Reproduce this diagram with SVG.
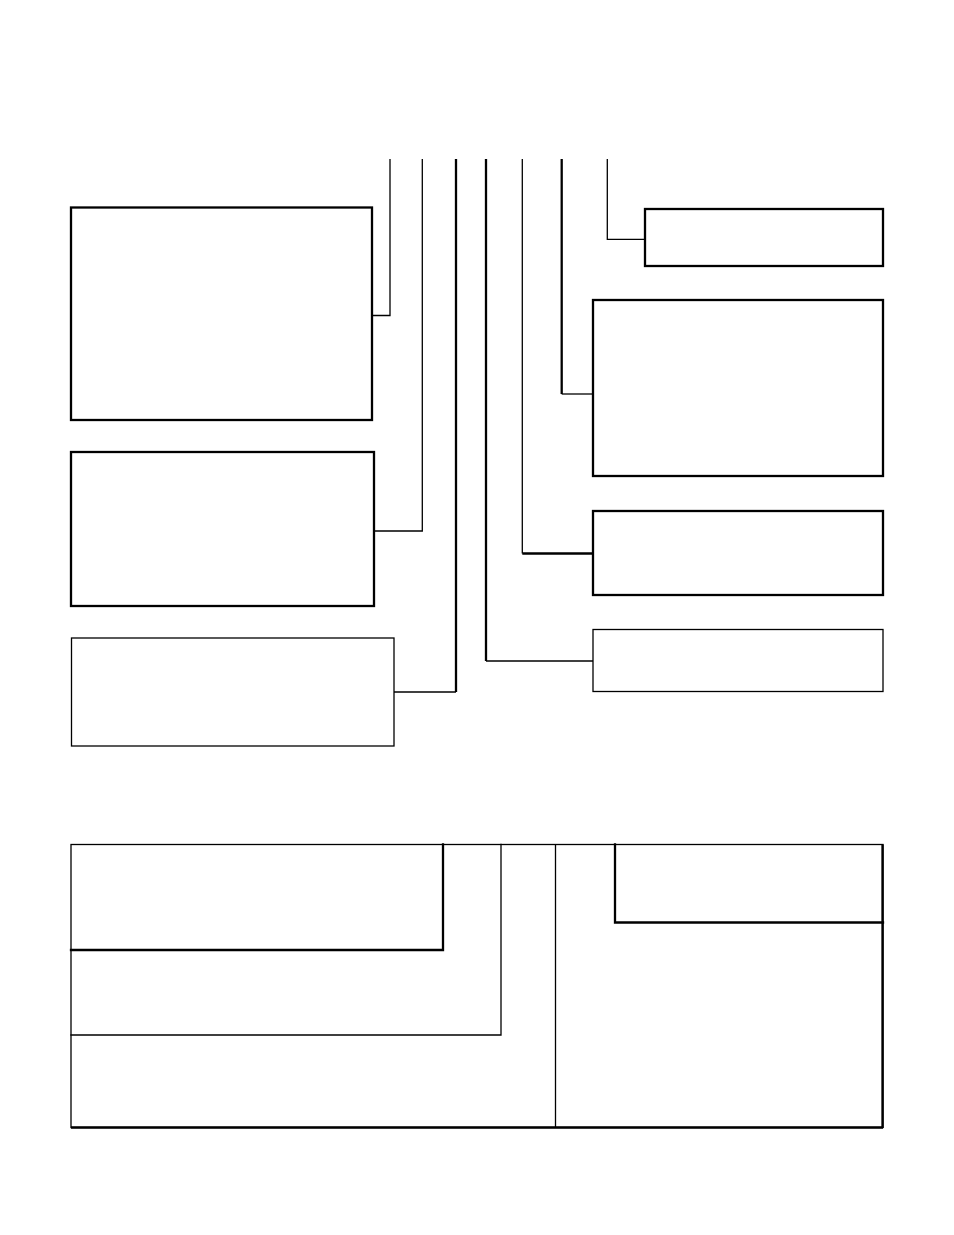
<svg xmlns="http://www.w3.org/2000/svg" width="954" height="1235" viewBox="0 0 954 1235">
<style>
.n{fill:none;stroke:#000;stroke-linejoin:miter;stroke-linecap:square}
.thick{stroke-width:2.3}
.thin{stroke-width:1.3}
.c{fill:none;stroke:#000;stroke-linecap:butt}
</style>
<rect width="954" height="1235" fill="#fff"/>
<g id="box-left-1"><rect class="n thick" x="71" y="207.5" width="301" height="212.5"/></g>
<g id="box-left-2"><rect class="n thick" x="71" y="452" width="303" height="154"/></g>
<g id="box-left-3"><rect class="n thin" x="71.5" y="638" width="322.5" height="108"/></g>
<g id="box-right-1"><rect class="n thick" x="645" y="209" width="238" height="57"/></g>
<g id="box-right-2"><rect class="n thick" x="593" y="300" width="290" height="176"/></g>
<g id="box-right-3"><rect class="n thick" x="593" y="511" width="290" height="84"/></g>
<g id="box-right-4"><rect class="n thin" x="593" y="629.5" width="290" height="62"/></g>
<g id="connectors">
<polyline class="c thin" points="390,159 390,315.5 372,315.5"/>
<polyline class="c thin" points="422.3,159 422.3,531 374,531"/>
<polyline class="c thick" points="456,159 456,692"/>
<polyline class="c thin" points="456,692 394,692"/>
<polyline class="c thick" points="486,159 486,661"/>
<polyline class="c thin" points="486,661 593,661"/>
<polyline class="c thin" points="522.3,159 522.3,553.5"/>
<polyline class="c thick" points="522.3,553.5 593,553.5"/>
<polyline class="c thick" points="561.7,159 561.7,394"/>
<polyline class="c thin" points="561.7,394 593,394"/>
<polyline class="c thin" points="607.3,159 607.3,239.3 645,239.3"/>
</g>
<g id="bottom-panel">
<rect class="n thin" x="71" y="844.5" width="812" height="283"/>
<line class="c thick" x1="71" y1="1127.5" x2="883" y2="1127.5"/>
<line class="c thick" x1="882.5" y1="844.5" x2="882.5" y2="1128"/>
</g>
<g id="bottom-inner-1"><polyline class="n thick" points="71,950 443,950 443,844.5"/></g>
<g id="bottom-inner-2"><polyline class="n thin" points="71,1035 501,1035 501,844.5"/></g>
<g id="bottom-divider"><line class="c thin" x1="555.5" y1="844.5" x2="555.5" y2="1127.5"/></g>
<g id="bottom-inner-3"><polyline class="n thick" points="615,844.5 615,922.5 883,922.5"/></g>
</svg>
